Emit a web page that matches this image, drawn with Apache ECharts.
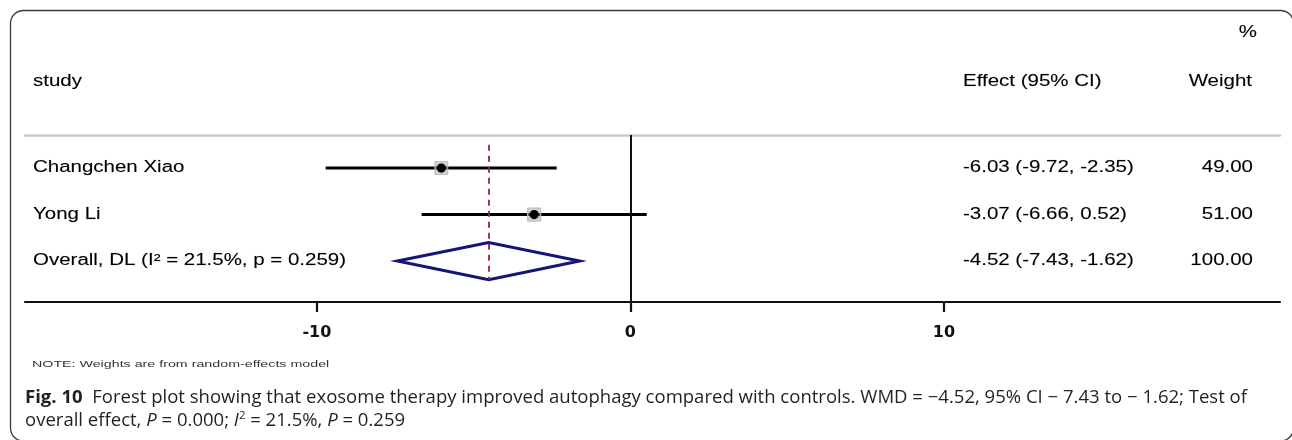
<!DOCTYPE html>
<html>
<head>
<meta charset="utf-8">
<script src="https://cdn.jsdelivr.net/npm/echarts@6/dist/echarts.min.js"></script>
<style>
  html, body { margin: 0; padding: 0; background: #fff; }
  #chart { width: 1292px; height: 440px; }
</style>
</head>
<body>
<div id="chart"></div>
<script>
// Study-level results (mean difference with 95% CI) and random-effects weights
const studyNames = ['Changchen Xiao', 'Yong Li'];
const studyEstimates = [-6.03, -3.07];
const studyLower = [-9.72, -6.66];
const studyUpper = [-2.35, 0.52];
const studyWeights = [49.00, 51.00];

// Pooled (DerSimonian-Laird) result
const overallLabel = 'Overall, DL (I² = 21.5%, p = 0.259)';
const overallEstimate = -4.52;
const overallLower = -7.43;
const overallUpper = -1.62;
const overallWeight = 100.00;

// Axis ticks and column headings
const xTicks = [-10, 0, 10];
const headStudy = 'study';
const headEffect = 'Effect (95% CI)';
const headWeightTop = '%';
const headWeight = 'Weight';
const noteText = 'NOTE: Weights are from random-effects model';
const captionLine1 = '{b|Fig. 10}  Forest plot showing that exosome therapy improved autophagy compared with controls. WMD = \u22124.52, 95% CI \u2212 7.43 to \u2212 1.62; Test of';
const captionLine2 = 'overall effect, {i|P} = 0.000; {i|I}{sup|2} = 21.5%, {i|P} = 0.259';

// Layout constants
const TABLE_FONT = '"Liberation Sans", Arial, sans-serif';
const TABLE_SIZE = 16;
const TABLE_SX = 1.28;
const COL_LABEL_X = 33;
const COL_EFFECT_X = 963;
const COL_WEIGHT_X = 1253;
const TEXT_COLOR = '#000';
const CAP_FONT = '"Open Sans", "Noto Sans", sans-serif';
const CAP_SIZE = 18;

function fmt(v) { return v.toFixed(2); }
function ciText(e, lo, hi) { return fmt(e) + ' (' + fmt(lo) + ', ' + fmt(hi) + ')'; }

function tableText(text, x, y, align) {
  return {
    type: 'text', x: x, y: y, scaleX: TABLE_SX,
    style: {
      text: text, fill: TEXT_COLOR, fontFamily: TABLE_FONT, fontSize: TABLE_SIZE,
      align: align || 'left', verticalAlign: 'middle',
      stroke: 'rgba(0,0,0,0.25)', lineWidth: 0.4
    }
  };
}

function measure(font, txt) {
  const ctx = document.createElement('canvas').getContext('2d');
  ctx.font = font;
  return ctx.measureText(txt).width;
}
// Caption is fitted to the text block width
const capW = measure('bold ' + CAP_SIZE + 'px "Open Sans"', 'Fig. 10') +
  measure(CAP_SIZE + 'px "Open Sans"', captionLine1.replace('{b|Fig. 10}', ''));
const CAP_SX = 1222 / capW;

const studyData = studyNames.map((n, i) => [studyEstimates[i], studyLower[i], studyUpper[i], studyWeights[i], i + 1, i]);
const overallData = [[overallEstimate, overallLower, overallUpper, overallWeight, studyNames.length + 1]];

const chart = echarts.init(document.getElementById('chart'), null, { renderer: 'canvas' });

const xMin = -19.31, xMax = 20.72;

chart.setOption({
  animation: false,
  backgroundColor: '#fff',
  grid: { left: 25, right: 12, top: 135, bottom: 138 },
  xAxis: [
    {
      type: 'value', position: 'bottom', min: xMin, max: xMax,
      splitLine: { show: false },
      axisLine: { show: true, onZero: false, lineStyle: { color: '#111', width: 2.2 } },
      axisTick: { show: true, customValues: xTicks, length: 10, lineStyle: { color: '#111', width: 2.2 } },
      axisLabel: {
        show: true, customValues: xTicks, margin: 23,
        color: '#111', fontFamily: '"DejaVu Sans", sans-serif', fontWeight: 'bold', fontSize: 16
      }
    },
    {
      type: 'value', position: 'top', min: xMin, max: xMax,
      splitLine: { show: false },
      axisLine: { show: true, onZero: false, lineStyle: { color: '#c9c9c9', width: 2.5 } },
      axisTick: { show: false }, axisLabel: { show: false }
    }
  ],
  yAxis: { type: 'value', inverse: true, min: 0.29, max: 3.88, show: false },
  series: [
    {
      type: 'line', data: [], silent: true,
      markLine: {
        silent: true, symbol: ['none', 'none'], label: { show: false },
        data: [
          { xAxis: 0, lineStyle: { color: '#111', width: 2, type: 'solid' } },
          [
            { coord: [overallEstimate, 0.5], lineStyle: { color: '#9b2335', width: 1.8, type: [6, 5] } },
            { coord: [overallEstimate, 3.4] }
          ]
        ]
      }
    },
    {
      type: 'custom', data: studyData, z: 3,
      renderItem: function (params, api) {
        const est = api.value(0), lo = api.value(1), hi = api.value(2), w = api.value(3), row = api.value(4);
        const idx = api.value(5);
        const pL = api.coord([lo, row]), pH = api.coord([hi, row]), pE = api.coord([est, row]);
        const box = 13 * Math.sqrt(w / 50);
        return {
          type: 'group',
          children: [
            { type: 'line', shape: { x1: pL[0], y1: pL[1], x2: pH[0], y2: pH[1] }, style: { stroke: '#000', lineWidth: 3 } },
            { type: 'rect', shape: { x: pE[0] - box / 2, y: pE[1] - box / 2, width: box, height: box },
              style: { fill: 'rgba(160,160,160,0.5)', stroke: '#bdbdbd', lineWidth: 1 } },
            { type: 'circle', shape: { cx: pE[0], cy: pE[1], r: 4.6 }, style: { fill: '#000' } },
            tableText(studyNames[idx], COL_LABEL_X, pE[1], 'left'),
            tableText(ciText(est, lo, hi), COL_EFFECT_X, pE[1], 'left'),
            tableText(fmt(w), COL_WEIGHT_X, pE[1], 'right')
          ]
        };
      }
    },
    {
      type: 'custom', data: overallData, z: 3,
      renderItem: function (params, api) {
        const est = api.value(0), lo = api.value(1), hi = api.value(2), w = api.value(3), row = api.value(4);
        const half = 0.4;
        const pts = [
          api.coord([lo, row]),
          api.coord([est, row - half]),
          api.coord([hi, row]),
          api.coord([est, row + half])
        ];
        const c = api.coord([est, row]);
        return {
          type: 'group',
          children: [
            { type: 'polygon', shape: { points: pts }, style: { fill: 'none', stroke: '#14147a', lineWidth: 3 } },
            tableText(overallLabel, COL_LABEL_X, c[1], 'left'),
            tableText(ciText(est, lo, hi), COL_EFFECT_X, c[1], 'left'),
            tableText(fmt(w), COL_WEIGHT_X, c[1], 'right')
          ]
        };
      }
    }
  ],
  graphic: [
    { type: 'rect', shape: { x: 10.5, y: 10.5, width: 1283, height: 430.5, r: 13 },
      style: { fill: 'none', stroke: '#3a3a3a', lineWidth: 1.3 }, silent: true },
    tableText(headWeightTop, 1257, 33, 'right'),
    tableText(headStudy, COL_LABEL_X, 82, 'left'),
    tableText(headEffect, COL_EFFECT_X, 82, 'left'),
    tableText(headWeight, COL_WEIGHT_X - 1, 82, 'right'),
    { type: 'text', x: 32, y: 364, scaleX: 1.5,
      style: { text: noteText, fill: '#333', fontFamily: TABLE_FONT, fontSize: 9.5, align: 'left', verticalAlign: 'middle' } },
    { type: 'text', x: 25, y: 398, scaleX: CAP_SX,
      style: {
        text: captionLine1, fill: '#231f20', fontFamily: CAP_FONT, fontSize: CAP_SIZE,
        align: 'left', verticalAlign: 'middle',
        rich: { b: { fontFamily: CAP_FONT, fontSize: CAP_SIZE, fontWeight: 'bold', fill: '#231f20' } }
      } },
    { type: 'text', x: 25, y: 421, scaleX: CAP_SX,
      style: {
        text: captionLine2, fill: '#231f20', fontFamily: CAP_FONT, fontSize: CAP_SIZE,
        align: 'left', verticalAlign: 'middle', lineHeight: 22,
        rich: {
          i: { fontFamily: CAP_FONT, fontSize: CAP_SIZE, fontStyle: 'italic', fill: '#231f20', lineHeight: 22 },
          sup: { fontFamily: CAP_FONT, fontSize: 11, fill: '#231f20', verticalAlign: 'top', lineHeight: 12 }
        }
      } }
  ]
});
</script>
</body>
</html>
